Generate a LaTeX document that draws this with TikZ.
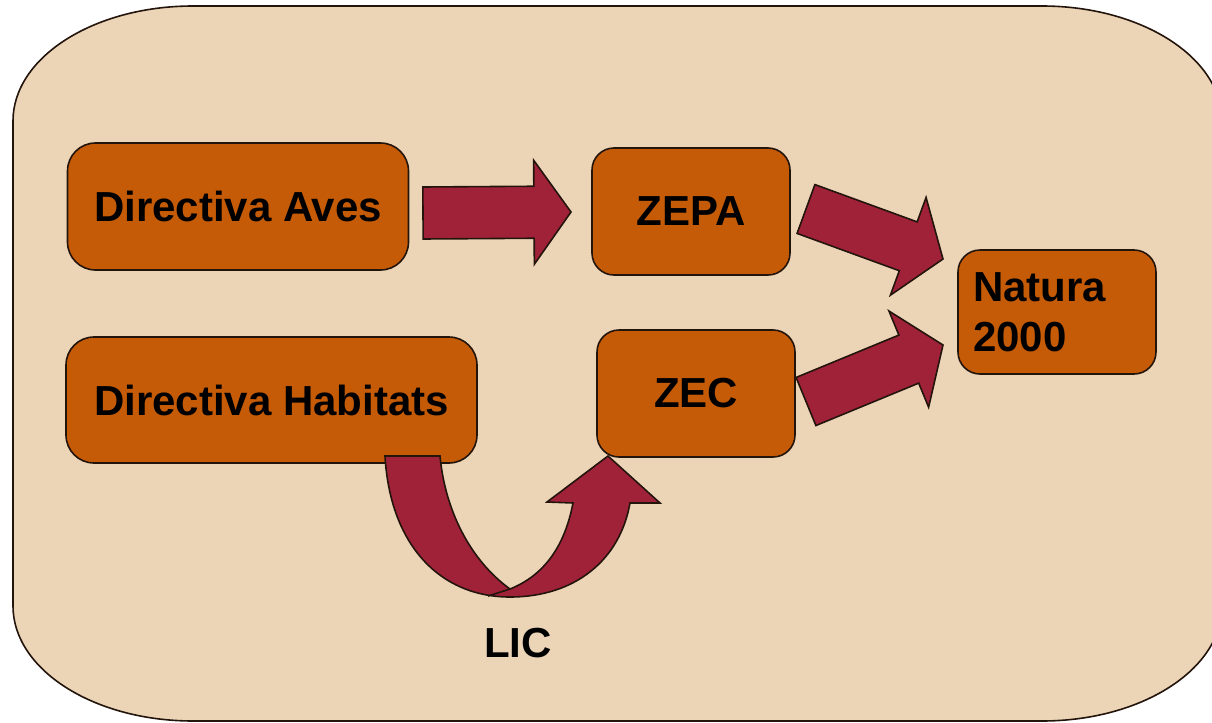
\documentclass[tikz,border=0pt]{standalone}
\usepackage{fontspec}
\setmainfont{Liberation Sans}
\usetikzlibrary{calc}

\definecolor{panelbg}{RGB}{236,212,182}
\definecolor{boxfill}{RGB}{197,91,6}
\definecolor{arrowred}{RGB}{160,34,57}
\definecolor{outline}{RGB}{35,20,12}

\tikzset{
    panel/.style={draw=outline, fill=panelbg, line width=0.8pt},
    box/.style={draw=outline, fill=boxfill, line width=0.8pt, rounded corners=11pt,
                inner sep=0pt, font=\fontsize{21}{25}\selectfont\bfseries},
    fat/.style={draw=outline, fill=arrowred, line width=0.8pt, line join=miter},
    lbl/.style={font=\fontsize{21}{25}\selectfont\bfseries}
}

% block arrow from tail (#1) to tip (#2)
\newcommand{\fatarrow}[2]{%
    \coordinate (fb) at ($(#2)!18.5pt!(#1)$);
    \draw[fat] ($(#1)!13pt!90:(#2)$) -- ($(fb)!13pt!90:(#2)$) -- ($(fb)!26pt!90:(#2)$)
        -- (#2) -- ($(fb)!26pt!-90:(#2)$) -- ($(fb)!13pt!-90:(#2)$)
        -- ($(#1)!13pt!-90:(#2)$) -- cycle;
}

\begin{document}
\begin{tikzpicture}[x=0.5pt, y=-0.5pt]
            \useasboundingbox (0,0) rectangle (1212,723);
            \clip (0,0) rectangle (1212,723);

            % background panel
            \draw[panel] (13,121) .. controls (13,57.5) and (93.6,6) .. (193,6)
                -- (1042,6) .. controls (1141.4,6) and (1222,57.5) .. (1222,121)
                -- (1222,606) .. controls (1222,669.5) and (1141.4,721) .. (1042,721)
                -- (193,721) .. controls (93.6,721) and (13,669.5) .. (13,606) -- cycle;

            \node[box, rounded corners=14pt, minimum width=170.5pt, minimum height=63.5pt]
                (aves) at (238,206.5) {Directiva Aves};
            \node[box, minimum width=99pt, minimum height=63.5pt]
                (zepa) at (691,211.5) {ZEPA};
            \node[box, rounded corners=14pt, minimum width=205.5pt, minimum height=63pt]
                (habitats) at (271.5,400) {Directiva Habitats};
            \node[box, minimum width=99pt, minimum height=63.5pt]
                (zec) at (696,393.5) {ZEC};
            \node[box, minimum width=99pt, minimum height=62pt, text width=84pt, align=left]
                (natura) at (1057,312) {Natura\\2000};

            \node[lbl] (lic) at (518,643) {LIC};

            \coordinate (a1s) at (423,213);
            \coordinate (a1e) at (571,212);
            \coordinate (a2s) at (806,209);
            \coordinate (a2e) at (943,259);
            \coordinate (a3s) at (806,401.5);
            \coordinate (a3e) at (943,345);

            \fatarrow{a1s}{a1e}
            \fatarrow{a2s}{a2e}
            \fatarrow{a3s}{a3e}

            % curved arrow habitats -> zec
            \draw[fat] (385,456) .. controls (390,545) and (440,597) .. (510,597)
                .. controls (575,597) and (620,560) .. (630,503)
                -- (660,503) -- (608,456) -- (547,502) -- (573,503)
                .. controls (565,545) and (545,575) .. (510,589)
                .. controls (470,560) and (445,510) .. (440,456) -- cycle;
            \draw[outline, line width=0.8pt] (510,589) -- (488,596);
\end{tikzpicture}
\end{document}
